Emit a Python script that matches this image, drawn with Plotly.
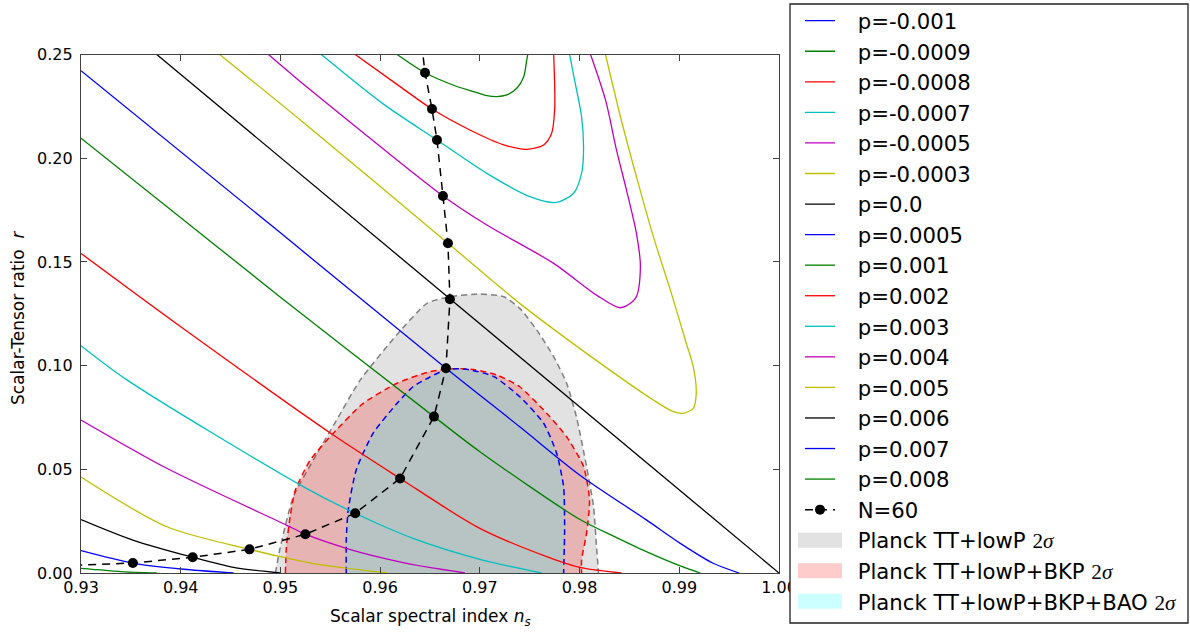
import plotly.graph_objects as go

# ---------------------------------------------------------------------------
# (n_s, r) tracks for each value of p
# ---------------------------------------------------------------------------
P_LABELS = ["p=-0.001", "p=-0.0009", "p=-0.0008", "p=-0.0007", "p=-0.0005",
            "p=-0.0003", "p=0.0", "p=0.0005", "p=0.001", "p=0.002", "p=0.003",
            "p=0.004", "p=0.005", "p=0.006", "p=0.007", "p=0.008"]

B, G, R, C, M, Y, K = "#0000ff", "#008000", "#ff0000", "#00bfbf", "#bf00bf", "#bfbf00", "#000000"
LINE_COLORS = [B, G, R, C, M, Y, K, B, G, R, C, M, Y, K, B, G]

# p = -0.001 stays above r = 0.25 over this n_s window: no visible points
NS_M0010 = [None]
R_M0010 = [None]

NS_M0009 = [0.9617, 0.9645, 0.9673, 0.9690, 0.9707, 0.9717, 0.9727, 0.9737, 0.9744, 0.9747, 0.9748]
R_M0009 = [0.2500, 0.2412, 0.2353, 0.2326, 0.2302, 0.2297, 0.2305, 0.2337, 0.2393, 0.2473, 0.2500]

NS_M0008 = [0.9575, 0.9620, 0.9652, 0.9690, 0.9724, 0.9747, 0.9764, 0.9772, 0.9775, 0.9775, 0.9774]
R_M0008 = [0.2500, 0.2345, 0.2237, 0.2136, 0.2064, 0.2043, 0.2064, 0.2120, 0.2232, 0.2361, 0.2500]

NS_M0007 = [0.9541, 0.9603, 0.9657, 0.9707, 0.9750, 0.9777, 0.9794, 0.9802, 0.9804, 0.9802, 0.9795, 0.9790]
R_M0007 = [0.2500, 0.2262, 0.2088, 0.1927, 0.1815, 0.1787, 0.1831, 0.1927, 0.2040, 0.2200, 0.2377, 0.2500]

NS_M0005 = [0.9488, 0.9520, 0.9587, 0.9663, 0.9707, 0.9774, 0.9817, 0.9841, 0.9856, 0.9861,
            0.9857, 0.9847, 0.9837, 0.9826, 0.9811]
R_M0005 = [0.2500, 0.2369, 0.2107, 0.1818, 0.1678, 0.1493, 0.1340, 0.1279, 0.1324, 0.1477,
           0.1638, 0.1847, 0.2040, 0.2281, 0.2500]

NS_M0003 = [0.9439, 0.9520, 0.9668, 0.9740, 0.9807, 0.9874, 0.9894, 0.9904, 0.9914, 0.9917,
            0.9914, 0.9907, 0.9891, 0.9874, 0.9857, 0.9841, 0.9826]
R_M0003 = [0.2500, 0.2184, 0.1590, 0.1300, 0.1059, 0.0834, 0.0778, 0.0770, 0.0794, 0.0866,
           0.0995, 0.1108, 0.1365, 0.1622, 0.1911, 0.2200, 0.2500]

NS_P0000 = [0.9376, 1.0000]
R_P0000 = [0.2500, 0.0000]

NS_P0005 = [0.9300, 0.9500, 0.9666, 0.9740, 0.9800, 0.9867, 0.9901, 0.9934, 0.9960]
R_P0005 = [0.2422, 0.1640, 0.0987, 0.0705, 0.0473, 0.0256, 0.0143, 0.0047, 0.0000]

NS_P0010 = [0.9300, 0.9500, 0.9654, 0.9700, 0.9800, 0.9834, 0.9867, 0.9901, 0.9921]
R_P0010 = [0.2096, 0.1330, 0.0754, 0.0585, 0.0259, 0.0178, 0.0103, 0.0034, 0.0000]

NS_P0020 = [0.9300, 0.9399, 0.9553, 0.9620, 0.9700, 0.9767, 0.9800, 0.9842]
R_P0020 = [0.1541, 0.1191, 0.0665, 0.0456, 0.0215, 0.0079, 0.0027, 0.0000]

NS_P0030 = [0.9300, 0.9346, 0.9520, 0.9575, 0.9633, 0.9700, 0.9762]
R_P0030 = [0.1096, 0.0931, 0.0424, 0.0288, 0.0167, 0.0066, 0.0000]

NS_P0040 = [0.9300, 0.9386, 0.9506, 0.9525, 0.9566, 0.9600, 0.9633, 0.9685]
R_P0040 = [0.0738, 0.0505, 0.0231, 0.0187, 0.0119, 0.0075, 0.0040, 0.0000]

NS_P0050 = [0.9300, 0.9386, 0.9469, 0.9500, 0.9533, 0.9607]
R_P0050 = [0.0463, 0.0223, 0.0114, 0.0079, 0.0045, 0.0000]

NS_P0060 = [0.9300, 0.9352, 0.9412, 0.9453, 0.9500]
R_P0060 = [0.0258, 0.0159, 0.0076, 0.0027, 0.0000]

NS_P0070 = [0.9300, 0.9352, 0.9403, 0.9453]
R_P0070 = [0.0108, 0.0048, 0.0018, 0.0000]

NS_P0080 = [0.9300, 0.9340, 0.9376]
R_P0080 = [0.0022, 0.0007, 0.0000]

CURVES = [(NS_M0010, R_M0010), (NS_M0009, R_M0009), (NS_M0008, R_M0008),
          (NS_M0007, R_M0007), (NS_M0005, R_M0005), (NS_M0003, R_M0003),
          (NS_P0000, R_P0000), (NS_P0005, R_P0005), (NS_P0010, R_P0010),
          (NS_P0020, R_P0020), (NS_P0030, R_P0030), (NS_P0040, R_P0040),
          (NS_P0050, R_P0050), (NS_P0060, R_P0060), (NS_P0070, R_P0070),
          (NS_P0080, R_P0080)]

# N = 60 e-folds on each track (p = -0.001 ... 0.008)
NS_N60 = [0.9640, 0.9645, 0.9652, 0.9657, 0.9663, 0.9668, 0.9670, 0.9666,
          0.9654, 0.9620, 0.9575, 0.9525, 0.9469, 0.9412, 0.9352, 0.9285]
R_N60 = [0.2620, 0.2412, 0.2237, 0.2088, 0.1818, 0.1590, 0.1320, 0.0987,
         0.0754, 0.0456, 0.0288, 0.0187, 0.0114, 0.0076, 0.0048, 0.0036]

# ---------------------------------------------------------------------------
# Planck 2-sigma regions
# ---------------------------------------------------------------------------
NS_TT = [0.9495, 0.9500, 0.9513, 0.9533, 0.9553, 0.9580, 0.9617, 0.9647, 0.9670, 0.9700,
         0.9724, 0.9740, 0.9757, 0.9774, 0.9787, 0.9797, 0.9807, 0.9814, 0.9817, 0.9819]
R_TT = [0.0000, 0.0127, 0.0368, 0.0545, 0.0710, 0.0930, 0.1150, 0.1300, 0.1332, 0.1345,
        0.1332, 0.1276, 0.1172, 0.1043, 0.0915, 0.0750, 0.0513, 0.0320, 0.0127, 0.0000]

NS_BKP = [0.9505, 0.9506, 0.9510, 0.9515, 0.9530, 0.9553, 0.9583, 0.9617, 0.9650, 0.9675,
          0.9695, 0.9717, 0.9740, 0.9767, 0.9787, 0.9804, 0.9810, 0.9807, 0.9802, 0.9802]
R_BKP = [0.0000, 0.0127, 0.0280, 0.0400, 0.0545, 0.0674, 0.0818, 0.0915, 0.0971, 0.0985,
         0.0980, 0.0955, 0.0898, 0.0770, 0.0657, 0.0513, 0.0352, 0.0191, 0.0063, 0.0000]

NS_BAO = [0.9566, 0.9566, 0.9568, 0.9576, 0.9593, 0.9617, 0.9633, 0.9650, 0.9667, 0.9687,
          0.9714, 0.9740, 0.9764, 0.9777, 0.9784, 0.9785, 0.9784]
R_BAO = [0.0000, 0.0159, 0.0304, 0.0497, 0.0674, 0.0818, 0.0898, 0.0945, 0.0982, 0.0982,
         0.0947, 0.0850, 0.0722, 0.0577, 0.0416, 0.0207, 0.0000]

SIG = "<span style=\"font-family:Liberation Serif\">2<i>\u03c3</i></span>"
REGIONS = [
    ("Planck TT+lowP " + SIG, NS_TT, R_TT, "rgba(128,128,128,0.23)", "#7f7f7f"),
    ("Planck TT+lowP+BKP " + SIG, NS_BKP, R_BKP, "rgba(255,0,0,0.2)", "#ff0000"),
    ("Planck TT+lowP+BKP+BAO " + SIG, NS_BAO, R_BAO, "rgba(0,255,255,0.2)", "#0000ff"),
]

# ---------------------------------------------------------------------------
W, H = 1190, 633
PLOT_L, PLOT_R, PLOT_T, PLOT_B = 81, 779, 54.5, 573
PW = PLOT_R - PLOT_L
FONT = "DejaVu Sans"
PAD = "\u00a0\u00a0\u2009"
LEG_LEFT, LEG_FIRST, LEG_STEP = 800, 20.7, 30.56


def px_x(x):
    return (x - PLOT_L) / PW


def px_y(y):
    return (H - y) / H


fig = go.Figure()

# confidence regions (fill + dashed edge); legend entries are added below
for xs_ys in REGIONS:
    name, xs, ys, fill, edge = xs_ys
    fig.add_trace(go.Scatter(
        x=xs, y=ys, mode="lines", fill="toself", fillcolor=fill, showlegend=False,
        line=dict(width=0, shape="spline", smoothing=0.6), hoverinfo="skip"))
    fig.add_trace(go.Scatter(
        x=xs, y=ys, mode="lines", showlegend=False,
        line=dict(color=edge, width=1.5, dash="6px,4px", shape="spline", smoothing=0.6),
        hoverinfo="skip"))

# model tracks
for i, (label, color, (xs, ys)) in enumerate(zip(P_LABELS, LINE_COLORS, CURVES)):
    fig.add_trace(go.Scatter(
        x=xs, y=ys, mode="lines", name=PAD + label,
        line=dict(color=color, width=1.3, shape="spline", smoothing=0.8),
        legendrank=100 + i))

# N = 60 locus
fig.add_trace(go.Scatter(
    x=NS_N60, y=R_N60, mode="lines+markers", name=PAD + "N=60",
    line=dict(color="black", width=1.5, dash="8px,6px"),
    marker=dict(color="black", size=10), legendrank=1000))

# legend rows for the regions: text entries with a rectangular colour patch
n_rows_before = len(P_LABELS) + 1
for i, (name, xs, ys, fill, edge) in enumerate(REGIONS):
    fig.add_trace(go.Scatter(
        x=[None], y=[None], mode="lines", name=PAD + name,
        line=dict(width=0, color=fill), legendrank=2000 + i, hoverinfo="skip"))
    yc = LEG_FIRST + LEG_STEP * (n_rows_before + i)
    fig.add_shape(type="rect", xref="paper", yref="paper",
                  x0=px_x(798), x1=px_x(842), y0=px_y(yc + 7.5), y1=px_y(yc - 7.5),
                  line=dict(width=0), fillcolor=fill, layer="above")

axis_common = dict(
    showline=True, linecolor="#404040", linewidth=1.3, mirror="ticks",
    ticks="inside", ticklen=6, tickwidth=1, tickcolor="#404040",
    showgrid=False, zeroline=False,
    tickfont=dict(family=FONT, size=16, color="black"),
)

fig.update_xaxes(range=[0.93, 1.0], dtick=0.01, tick0=0.93, tickformat=".2f",
                 domain=[0, 1], **axis_common)
fig.update_yaxes(range=[0.0, 0.25], dtick=0.05, tick0=0, tickformat=".2f",
                 domain=[px_y(PLOT_B), px_y(PLOT_T)], ticklabelstandoff=4,
                 **axis_common)

fig.add_annotation(
    text="Scalar spectral index <i>n<sub>s</sub></i>", xref="paper", yref="paper",
    x=0.5, y=px_y(617), xanchor="center", yanchor="middle", showarrow=False,
    font=dict(family=FONT, size=17, color="black"))
fig.add_annotation(
    text="Scalar-Tensor ratio  <i>r</i>", xref="paper", yref="paper",
    x=px_x(18), y=px_y(318), xanchor="center", yanchor="middle", showarrow=False,
    textangle=-90, font=dict(family=FONT, size=17, color="black"))

# legend frame (drawn first so the patches sit on top of it)
fig.layout.shapes = (dict(type="rect", xref="paper", yref="paper",
                          x0=px_x(790), x1=px_x(1188), y0=px_y(623), y1=px_y(4),
                          line=dict(color="#222222", width=1.3), fillcolor="white",
                          layer="above"),) + tuple(fig.layout.shapes)

fig.update_layout(
    width=W, height=H,
    margin=dict(l=PLOT_L, r=W - PLOT_R, t=0, b=0, autoexpand=False),
    plot_bgcolor="white", paper_bgcolor="white",
    font=dict(family=FONT, color="black"),
    showlegend=True,
    legend=dict(x=px_x(LEG_LEFT), xanchor="left", y=px_y(0.4), yanchor="top",
                bgcolor="rgba(0,0,0,0)", borderwidth=0, traceorder="normal",
                font=dict(family=FONT, size=21.2, color="black"), itemwidth=30),
)

fig.write_html("out.html", config={"displayModeBar": False})
